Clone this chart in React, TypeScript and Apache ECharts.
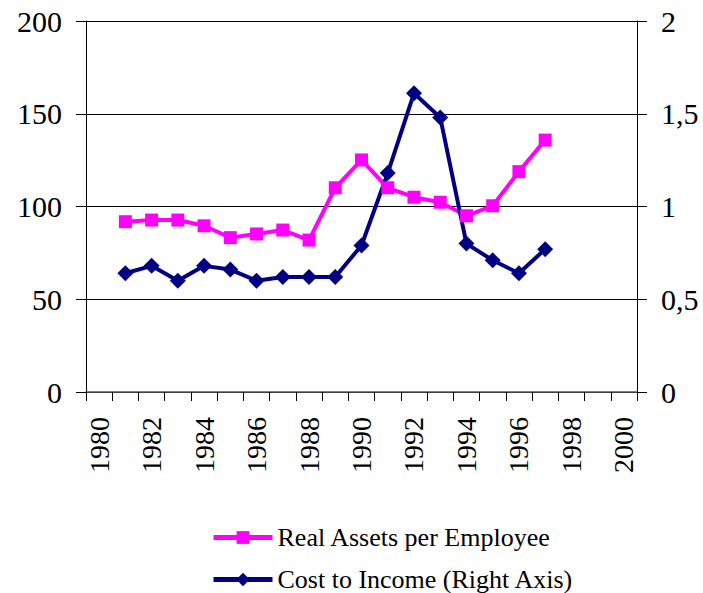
import React, { useEffect, useRef } from "react";
import * as echarts from "echarts";

const years = [
  "1980", "1981", "1982", "1983", "1984", "1985", "1986", "1987", "1988", "1989",
  "1990", "1991", "1992", "1993", "1994", "1995", "1996", "1997", "1998", "1999", "2000",
];
const realAssetsPerEmployee = [
  null, 91.8, 92.7, 92.7, 89.6, 83.2, 85.2, 87.3, 81.9, 110.1,
  125.1, 110.1, 105, 102.3, 95, 100.4, 118.8, 135.8, null, null, null,
];
const costToIncome = [
  null, 0.64, 0.68, 0.6, 0.68, 0.66, 0.6, 0.62, 0.62, 0.62,
  0.79, 1.18, 1.61, 1.48, 0.8, 0.71, 0.64, 0.77, null, null, null,
];
const seriesNames = ["Real Assets per Employee", "Cost to Income (Right Axis)"];

const FONT = "'Liberation Serif', 'Times New Roman', serif";

export default function App() {
  const ref = useRef<HTMLDivElement>(null);
  useEffect(() => {
    if (!ref.current) return;
    const chart = echarts.init(ref.current, undefined, { renderer: "svg" });
    const legendText = { fontFamily: FONT, fontSize: 26, color: "#000", lineHeight: 27 };
    chart.setOption({
      animation: false,
      backgroundColor: "#ffffff",
      textStyle: { fontFamily: FONT },
      grid: { left: 86, right: 66, top: 21, bottom: 201, containLabel: false },
      legend: [
        {
          data: [seriesNames[0]],
          orient: "vertical",
          left: 206,
          top: 519,
          itemWidth: 59,
          itemHeight: 16,
          lineStyle: { width: 5 },
          textStyle: legendText,
        },
        {
          data: [seriesNames[1]],
          orient: "vertical",
          left: 206,
          top: 561,
          itemWidth: 59,
          itemHeight: 17,
          lineStyle: { width: 5 },
          textStyle: legendText,
        },
      ],
      xAxis: {
        type: "category",
        data: years,
        boundaryGap: true,
        axisLine: { show: true, lineStyle: { color: "#555", width: 1.5 } },
        axisTick: { show: true, interval: 0, length: 9, lineStyle: { color: "#000" } },
        axisLabel: {
          interval: 1,
          rotate: 90,
          margin: 25,
          fontFamily: FONT,
          fontSize: 28,
          color: "#000",
        },
        splitLine: { show: false },
      },
      yAxis: [
        {
          type: "value",
          min: 0,
          max: 200,
          interval: 50,
          axisLine: { show: true, lineStyle: { color: "#000", width: 1 } },
          axisTick: { show: true, length: 10, lineStyle: { color: "#000" } },
          axisLabel: { margin: 24, fontFamily: FONT, fontSize: 30, color: "#000" },
          splitLine: { show: true, lineStyle: { color: "#000", width: 1 } },
        },
        {
          type: "value",
          min: 0,
          max: 2,
          interval: 0.5,
          position: "right",
          axisLine: { show: true, lineStyle: { color: "#000", width: 1 } },
          axisTick: { show: true, length: 10, lineStyle: { color: "#000" } },
          axisLabel: {
            margin: 24,
            fontFamily: FONT,
            fontSize: 30,
            color: "#000",
            formatter: (v: number) => String(v).replace(".", ","),
          },
          splitLine: { show: false },
        },
      ],
      series: [
        {
          name: seriesNames[0],
          type: "line",
          yAxisIndex: 0,
          data: realAssetsPerEmployee,
          symbol: "rect",
          symbolSize: 13,
          showAllSymbol: true,
          lineStyle: { color: "#FF00FF", width: 4 },
          itemStyle: { color: "#FF00FF" },
          connectNulls: false,
        },
        {
          name: seriesNames[1],
          type: "line",
          yAxisIndex: 1,
          data: costToIncome,
          symbol: "diamond",
          symbolSize: 16,
          showAllSymbol: true,
          lineStyle: { color: "#000080", width: 4 },
          itemStyle: { color: "#000080" },
          connectNulls: false,
        },
      ],
    });
    return () => chart.dispose();
  }, []);
  return (
    <div
      ref={ref}
      style={{ position: "fixed", left: 0, top: 0, width: 703, height: 593, background: "#fff" }}
    />
  );
}
